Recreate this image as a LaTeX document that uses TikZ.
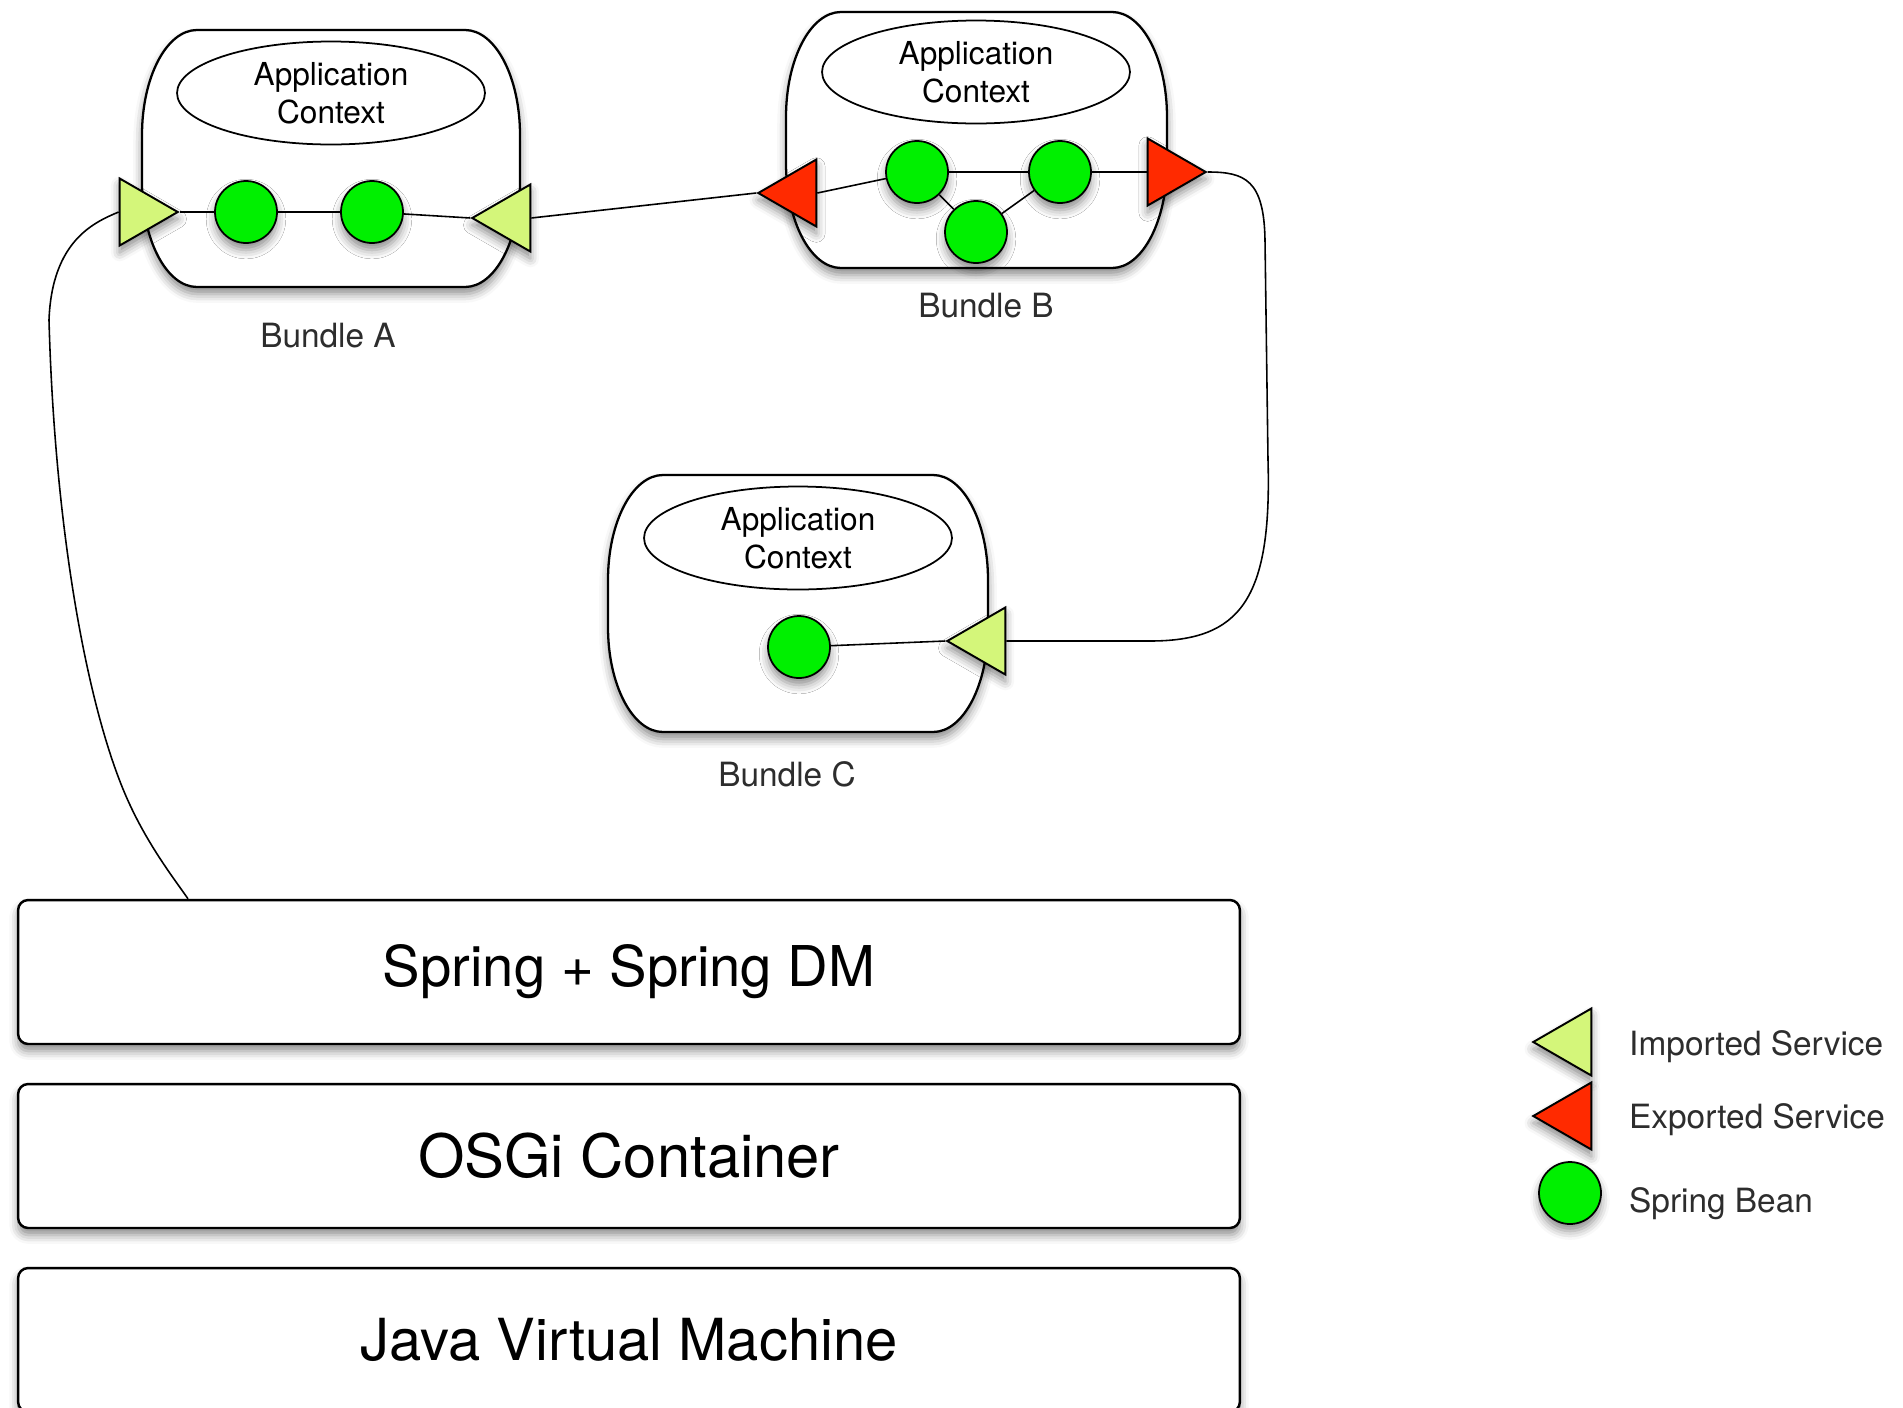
\documentclass[tikz,border=0pt]{standalone}
\usepackage{fontspec}
\setmainfont{TeX Gyre Heros}
\usetikzlibrary{shapes.geometric,shadows.blur}

\definecolor{beangreen}{RGB}{0,240,0}
\definecolor{importgreen}{RGB}{212,246,122}
\definecolor{exportred}{RGB}{255,42,0}
\definecolor{labelgray}{RGB}{45,45,45}

\tikzset{
  softshadow/.style={blur shadow={shadow xshift=0pt,shadow yshift=-4pt,shadow blur radius=5pt,shadow opacity=45}},
  bundleline/.style={draw=black,line width=1.3pt,fill=white,softshadow},
  svc/.style={regular polygon,regular polygon sides=3,draw,line width=1.1pt,minimum size=1.55cm,inner sep=0pt,softshadow},
  impsvc/.style={svc,fill=importgreen},
  expsvc/.style={svc,fill=exportred},
  pointright/.style={shape border rotate=-90},
  pointleft/.style={shape border rotate=90}
}

\newcommand{\bundleshape}[4]{%
  \draw[bundleline] ({#1+55},#2) -- ({#3-55},#2)
    arc[start angle=-90,end angle=0,x radius=55,y radius=105]
    -- (#3,{#4-105})
    arc[start angle=0,end angle=90,x radius=55,y radius=105]
    -- ({#1+55},#4)
    arc[start angle=90,end angle=180,x radius=55,y radius=105]
    -- (#1,{#2+105})
    arc[start angle=180,end angle=270,x radius=55,y radius=105]
    -- cycle;}

\begin{document}
\begin{tikzpicture}[x=0.02cm,y=-0.02cm]
  \useasboundingbox (0,0) rectangle (1903,1407);

  \bundleshape{142}{30}{520}{287}
  \bundleshape{786}{12}{1167}{268}
  \bundleshape{608}{475}{988}{732}

  \begin{scope}[every node/.style={ellipse,draw,line width=1pt,inner sep=0pt,align=center,minimum width=6.16cm,minimum height=2.06cm,font=\fontsize{18}{21.5}\selectfont}]
  \node (ctxA) at (331,93) {Application\\Context};
  \node (ctxB) at (976,72) {Application\\Context};
  \node (ctxC) at (798,538) {Application\\Context};
  \end{scope}

  \begin{scope}[every node/.style={anchor=base,text=labelgray,font=\fontsize{19}{23}\selectfont}]
  \node (nameA) at (328,347) {Bundle A};
  \node (nameB) at (986,317) {Bundle B};
  \node (nameC) at (787,786) {Bundle C};
  \end{scope}

  \begin{scope}[every node/.style={circle,draw,line width=1pt,fill=beangreen,minimum size=1.24cm,inner sep=0pt,softshadow}]
  \node (beanA1) at (246,212) {};
  \node (beanA2) at (372,212) {};
  \node (beanB1) at (917,172) {};
  \node (beanB2) at (1060,172) {};
  \node (beanB3) at (976,232) {};
  \node (beanC) at (799,647) {};
  \node (beanKey) at (1570,1193) {};
  \end{scope}

  \node[impsvc,pointright] (impAL) at (139,212) {};
  \node[impsvc,pointleft] (impAR) at (511,218) {};
  \node[expsvc,pointleft] (expBL) at (797,193) {};
  \node[expsvc,pointright] (expBR) at (1167,172) {};
  \node[impsvc,pointleft] (impC) at (986,641) {};
  \node[impsvc,pointleft] (impKey) at (1572,1042) {};
  \node[expsvc,pointleft] (expKey) at (1572,1116) {};

  \begin{scope}[every node/.style={rectangle,rounded corners=0.2cm,draw,line width=1.4pt,fill=white,minimum width=24.44cm,minimum height=2.88cm,font=\fontsize{33}{40}\selectfont,softshadow}]
  \node (spring) at (629,972) {\fontsize{32}{40}\selectfont Spring + Spring DM};
  \node (osgi) at (629,1156) {\fontsize{34}{40}\selectfont OSGi Container};
  \node (jvm) at (629,1340) {Java Virtual Machine};
  \end{scope}

  \begin{scope}[every node/.style={anchor=base west,text=labelgray,font=\fontsize{19}{23}\selectfont}]
  \node (keyImp) at (1623,1055) {Imported Service};
  \node (keyExp) at (1623,1128) {Exported Service};
  \node (keyBean) at (1623,1212) {Spring Bean};
  \end{scope}

  \begin{scope}[every edge/.style={draw=black,line width=0.9pt}]
  \path (impAL.corner 1) edge (beanA1);
  \path (beanA1) edge (beanA2);
  \path (beanA2) edge (impAR.corner 1);
  \path (impAR.side 2) edge (expBL.corner 1);
  \path (expBL.side 2) edge (beanB1);
  \path (beanB1) edge (beanB2);
  \path (beanB1) edge (beanB3);
  \path (beanB3) edge (beanB2);
  \path (beanB2) edge (expBR.side 2);
  \path (beanC) edge (impC.corner 1);
  \end{scope}

  \draw[line width=0.9pt] (impAL.side 2) .. controls (95,222) and (52,240) .. (49,320)
    .. controls (55,540) and (90,720) .. (130,805)
    .. controls (150,848) and (175,880) .. (188,0 |- spring.north);
  \draw[line width=0.9pt] (expBR.corner 1) .. controls (1245,172) and (1264,180) .. (1265,240)
    -- (1268,460) .. controls (1272,600) and (1240,0 |- impC.side 2) .. (1150,0 |- impC.side 2)
    -- (impC.side 2);
\end{tikzpicture}
\end{document}
